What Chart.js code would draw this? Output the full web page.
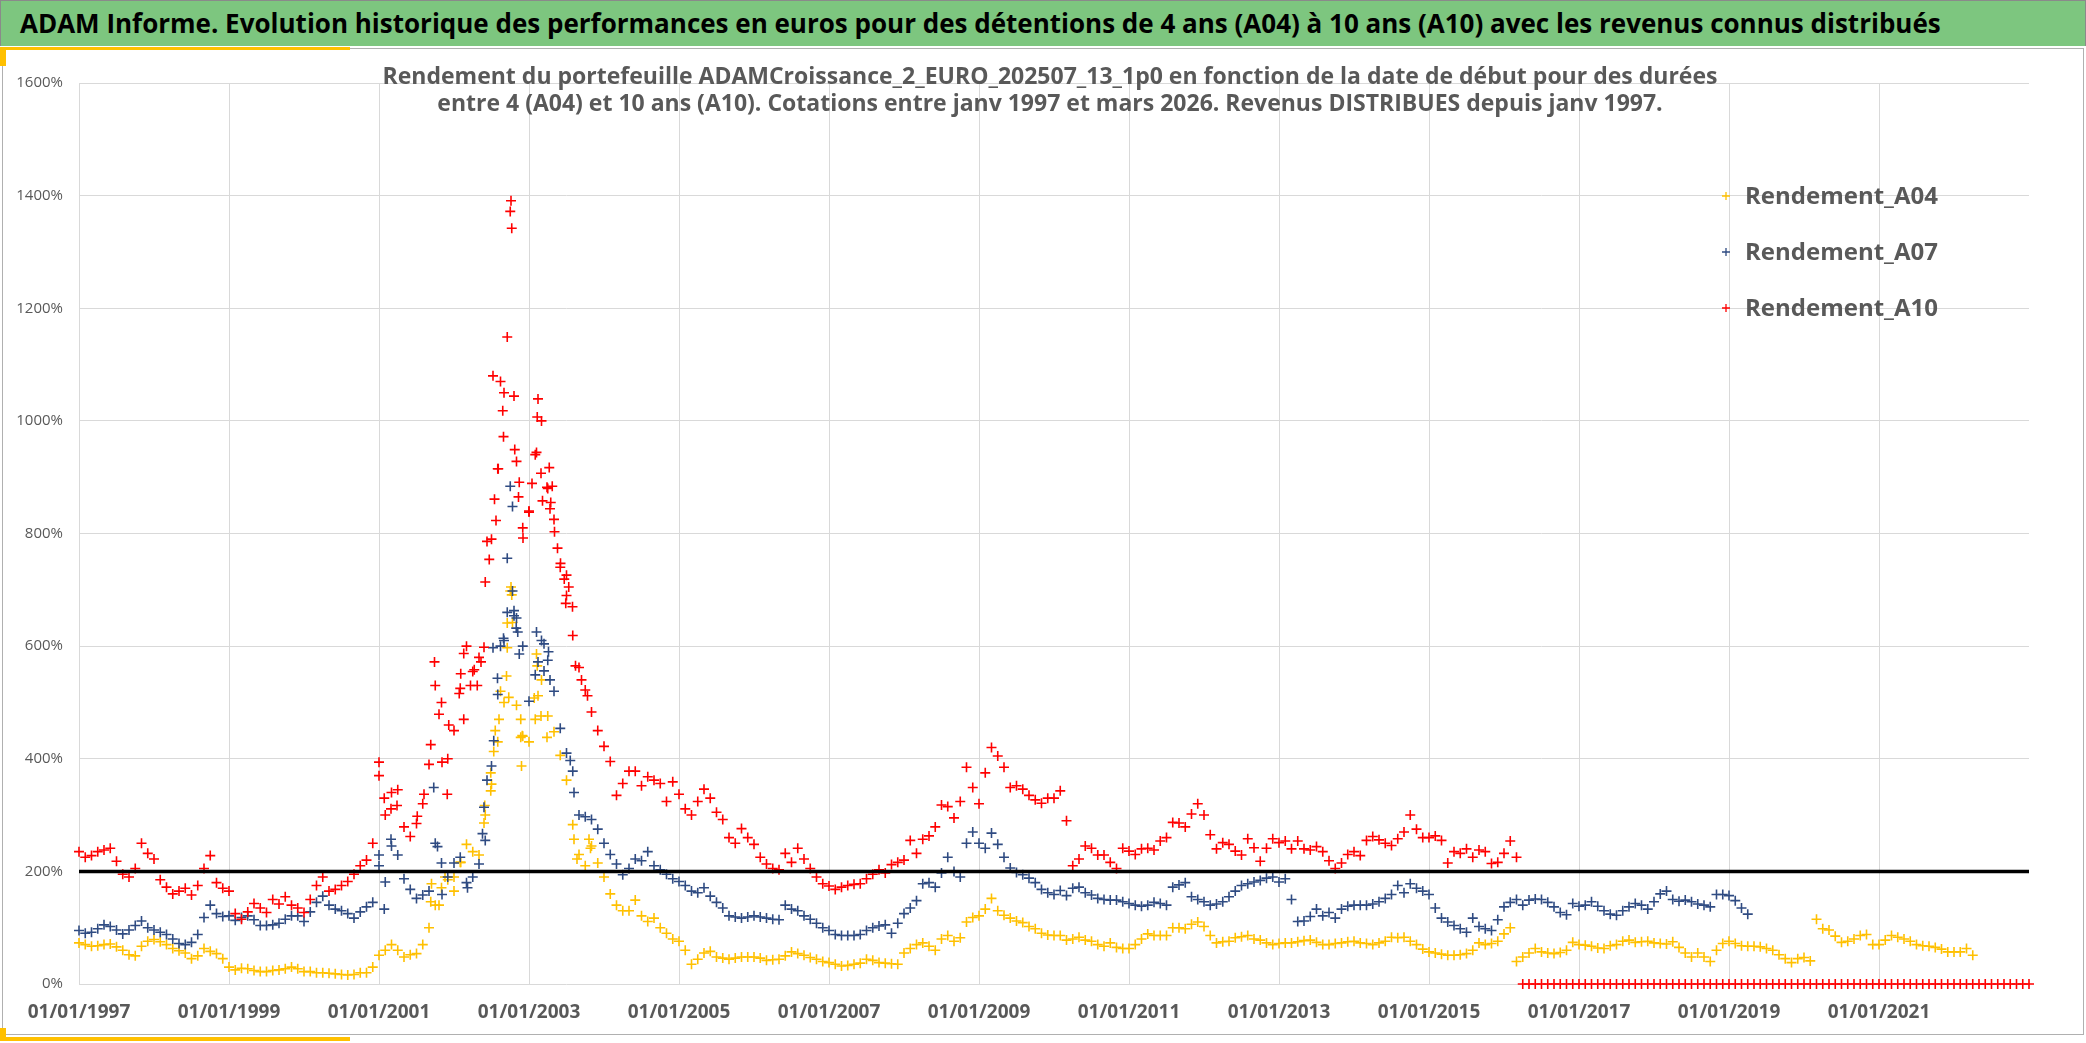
<!DOCTYPE html>
<html lang="fr">
<head>
<meta charset="utf-8">
<title>ADAM Informe - Rendements A04 A07 A10</title>
<script src="https://cdn.jsdelivr.net/npm/chart.js@4.4.1/dist/chart.umd.min.js"></script>
<style>
    html, body { margin: 0; padding: 0; background: #fff; overflow: hidden; }
    body { width: 2086px; height: 1043px; position: relative; font-family: "Open Sans", "DejaVu Sans", sans-serif; }
    .banner {
        position: absolute; left: 0; top: 0; width: 2086px; height: 46px;
        background: #7dc67f; border: 1px solid #8a8a8a; border-bottom: none;
        font-weight: bold; font-size: 26px; line-height: 45px; color: #000;
        padding-left: 19px; box-sizing: border-box; white-space: nowrap;
    }
    .frame {
        position: absolute; left: 2px; top: 48px; width: 2082px; height: 987px;
        border: 1px solid #b0b0b0; box-sizing: border-box;
    }
    .accent { position: absolute; background: #ffc000; }
    .subtitle {
        position: absolute; left: 0; top: 62px; width: 2100px; text-align: center;
        font-weight: bold; font-size: 23px; line-height: 27px; color: #595959; z-index: 5;
    }
    #wrap { position: absolute; left: 0; top: 0; width: 2086px; height: 1043px; z-index: 3; }
</style>
</head>
<body>
<div class="banner">ADAM Informe. Evolution historique des performances en euros pour des détentions de 4 ans (A04) à 10 ans (A10) avec les revenus connus distribués</div>
<div class="frame"></div>
<div class="accent" style="left:0;top:47px;width:350px;height:3px"></div>
<div class="accent" style="left:0;top:47px;width:6px;height:19px"></div>
<div class="accent" style="left:0;top:1037px;width:350px;height:4px"></div>
<div class="accent" style="left:0;top:1028px;width:6px;height:13px"></div>
<div class="subtitle">Rendement du portefeuille ADAMCroissance_2_EURO_202507_13_1p0 en fonction de la date de début pour des durées<br>entre 4 (A04) et 10 ans (A10). Cotations entre janv 1997 et mars 2026. Revenus DISTRIBUES depuis janv 1997.</div>
<div id="wrap"><canvas id="chart" width="2086" height="1043"></canvas></div>

<script>
// monthly values (%) starting january 1997, one row per year
const startYear = 1997;

const a04Monthly = [
    73, 70, 67, 68, 70, 71, 66, 60, 52, 50, 67, 76,
    79, 75, 70, 63, 59, 55, 45, 50, 63, 58, 54, 45,
    30, 25, 28, 27, 24, 22, 22, 24, 25, 27, 30, 27,
    22, 22, 20, 20, 19, 18, 17, 16, 17, 20, 20, 30,
    51, 60, 70, 60, 48, 52, 54, 70, 100, 140, 171, 185,
    190, 216, 248, 235, 229, 300, 355, 430, 500, 698, 495, 440,
    430, 470, 540, 476, 448, 406, 362, 283, 230, 210, 245, 215,
    190, 160, 140, 130, 130, 149, 121, 111, 117, 100, 90, 80,
    76, 60, 35, 44, 55, 58, 48, 46, 44, 46, 48, 48,
    48, 46, 42, 43, 44, 50, 57, 54, 51, 47, 44, 40,
    38, 35, 32, 33, 35, 37, 44, 42, 38, 37, 36, 35,
    55, 63, 70, 73, 67, 60, 80, 86, 76, 82, 110, 118,
    121, 133, 152, 130, 122, 117, 112, 109, 102, 98, 90, 87,
    86, 86, 78, 80, 83, 78, 76, 70, 67, 73, 65, 63,
    63, 70, 80, 89, 86, 86, 86, 100, 100, 98, 106, 110,
    102, 86, 73, 75, 76, 82, 84, 86, 80, 78, 73, 70,
    72, 73, 73, 75, 77, 78, 74, 70, 70, 72, 73, 75,
    76, 73, 72, 70, 73, 76, 83, 82, 83, 76, 70, 62,
    57, 55, 53, 51, 51, 52, 54, 60, 73, 70, 72, 76,
    89, 100, 40, 48, 55, 63, 57, 55, 54, 56, 60, 74,
    70, 69, 67, 64, 63, 68, 70, 76, 78, 74, 75, 76,
    73, 72, 71, 75, 65, 55, 48, 55, 48, 40, 60, 72,
    76, 72, 68, 67, 67, 66, 63, 60, 52, 45, 38, 45,
    47, 41, 115, 98, 96, 85, 74, 76, 80, 86, 88, 70,
    70, 78, 86, 83, 80, 76, 70, 68, 67, 65, 62, 57,
    57, 57, 63, 51
];

const a07Monthly = [
    95, 90, 92, 98, 105, 102, 96, 89, 96, 104, 112, 100,
    96, 92, 88, 80, 72, 70, 74, 88, 118, 140, 125, 120,
    121, 113, 118, 121, 114, 104, 104, 105, 108, 115, 121, 121,
    111, 128, 145, 156, 140, 133, 130, 125, 117, 128, 137, 145,
    210, 181, 245, 229, 187, 168, 152, 158, 165, 250, 215, 190,
    215, 225, 180, 190, 213, 255, 387, 514, 610, 884, 650, 600,
    502, 549, 610, 575, 520, 454, 410, 378, 300, 297, 292, 275,
    250, 230, 213, 194, 205, 222, 219, 235, 210, 203, 195, 187,
    182, 175, 165, 162, 171, 156, 145, 135, 121, 119, 117, 119,
    121, 119, 117, 115, 114, 140, 133, 130, 121, 115, 108, 100,
    95, 88, 86, 86, 86, 88, 95, 100, 103, 105, 90, 108,
    125, 135, 148, 178, 180, 172, 197, 225, 200, 190, 250, 270,
    250, 241, 268, 248, 225, 206, 198, 194, 188, 180, 168, 162,
    159, 166, 157, 170, 172, 162, 158, 152, 150, 149, 149, 146,
    143, 140, 138, 140, 145, 143, 140, 172, 176, 180, 155, 150,
    146, 140, 142, 146, 155, 165, 175, 178, 181, 184, 188, 190,
    181, 187, 150, 111, 112, 120, 133, 121, 127, 117, 133, 138,
    140, 140, 140, 142, 146, 152, 159, 175, 162, 178, 170, 165,
    159, 135, 117, 110, 104, 98, 92, 117, 102, 98, 95, 114,
    137, 145, 150, 140, 149, 151, 150, 145, 137, 127, 123, 143,
    138, 140, 146, 138, 130, 124, 122, 130, 137, 143, 140, 133,
    146, 160, 165, 150, 147, 149, 146, 142, 140, 137, 159, 159,
    157, 148, 135, 124
];

const a10Monthly = [
    235, 225, 228, 235, 238, 241, 218, 195, 190, 205, 250, 232,
    222, 185, 172, 160, 165, 170, 158, 175, 205, 228, 180, 170,
    165, 125, 115, 128, 143, 135, 127, 150, 142, 155, 140, 135,
    127, 150, 175, 190, 165, 168, 175, 182, 195, 210, 220, 250,
    370, 300, 340, 345, 279, 262, 285, 320, 390, 530, 500, 400,
    450, 525, 600, 555, 580, 714, 790, 915, 1050, 1372, 928, 810,
    840, 940, 1000, 880, 825, 740, 690, 619, 562, 522, 483, 450,
    422, 395, 335, 356, 378, 378, 352, 368, 362, 356, 324, 359,
    337, 311, 300, 324, 346, 330, 305, 292, 260, 250, 276, 260,
    248, 225, 213, 205, 203, 232, 216, 241, 222, 205, 190, 178,
    174, 168, 172, 175, 177, 178, 187, 195, 203, 197, 212, 216,
    220, 255, 232, 257, 263, 279, 318, 315, 295, 324, 385, 349,
    320, 375, 420, 405, 385, 349, 352, 346, 335, 327, 321, 330,
    330, 343, 290, 210, 222, 245, 241, 229, 229, 216, 205, 241,
    236, 230, 240, 241, 238, 254, 260, 287, 286, 279, 302, 320,
    300, 265, 240, 251, 248, 236, 229, 258, 242, 218, 241, 258,
    251, 254, 240, 254, 240, 238, 244, 235, 219, 205, 215, 230,
    235, 228, 255, 262, 256, 250, 246, 258, 270, 300, 275, 260,
    260, 263, 255, 215, 235, 232, 240, 225, 238, 235, 214, 216,
    232, 254, 225, 0, 0, 0, 0, 0, 0, 0, 0, 0,
    0, 0, 0, 0, 0, 0, 0, 0, 0, 0, 0, 0,
    0, 0, 0, 0, 0, 0, 0, 0, 0, 0, 0, 0,
    0, 0, 0, 0, 0, 0, 0, 0, 0, 0, 0, 0,
    0, 0, 0, 0, 0, 0, 0, 0, 0, 0, 0, 0,
    0, 0, 0, 0, 0, 0, 0, 0, 0, 0, 0, 0,
    0, 0, 0, 0, 0, 0, 0, 0, 0, 0, 0, 0,
    0
];

// extra scattered quotes around the 2001-2003 bubble: [decimal year, %]
const a04Extra = [
    [2001.69, 146], [2001.70, 178], [2001.80, 140], [2001.88, 190], [2002.00, 165], [2002.09, 216],
    [2002.40, 286], [2002.41, 317], [2002.49, 343], [2002.49, 375], [2002.53, 413], [2002.55, 450],
    [2002.60, 470], [2002.62, 520], [2002.71, 641], [2002.71, 597], [2002.70, 547], [2002.73, 509],
    [2002.76, 705], [2002.77, 691], [2002.78, 642], [2002.89, 470], [2002.89, 438], [2002.90, 387],
    [2002.91, 441], [2003.07, 508], [2003.10, 586], [2003.11, 565], [2003.12, 512], [2003.16, 476],
    [2003.24, 438], [2003.60, 257], [2003.64, 222], [2003.80, 257], [2003.82, 241]
];

const a07Extra = [
    [2001.00, 229], [2001.07, 133], [2001.16, 257], [2001.73, 349], [2001.78, 244], [2001.84, 159],
    [2002.18, 171], [2002.38, 267], [2002.40, 314], [2002.44, 362], [2002.53, 432], [2002.58, 543],
    [2002.52, 597], [2002.62, 600], [2002.66, 614], [2002.71, 756], [2002.71, 660], [2002.78, 848],
    [2002.78, 698], [2002.80, 663], [2002.80, 654], [2002.83, 632], [2002.85, 625], [2002.87, 586],
    [2003.10, 625], [2003.12, 572], [2003.20, 604], [2003.20, 556], [2003.26, 590], [2003.28, 540],
    [2003.55, 397], [2003.60, 340]
];

const a10Extra = [
    [2001.00, 394], [2001.07, 330], [2001.16, 311], [2001.24, 317], [2001.51, 298], [2001.60, 337],
    [2001.69, 425], [2001.74, 572], [2001.80, 479], [2001.84, 394], [2001.91, 337], [2001.93, 460],
    [2002.07, 516], [2002.09, 551], [2002.13, 587], [2002.13, 470], [2002.22, 530], [2002.27, 558],
    [2002.31, 530], [2002.36, 572], [2002.40, 598], [2002.44, 786], [2002.47, 754], [2002.52, 1080],
    [2002.54, 861], [2002.56, 823], [2002.59, 915], [2002.62, 1070], [2002.65, 1018], [2002.66, 972],
    [2002.71, 1149], [2002.76, 1391], [2002.77, 1342], [2002.80, 1044], [2002.81, 949], [2002.86, 865],
    [2002.87, 891], [2002.92, 792], [2003.00, 838], [2003.04, 889], [2003.10, 944], [2003.12, 1039],
    [2003.11, 1007], [2003.16, 907], [2003.18, 858], [2003.24, 882], [2003.27, 917], [2003.29, 855],
    [2003.28, 844], [2003.31, 884], [2003.34, 803], [2003.38, 774], [2003.42, 747], [2003.47, 719],
    [2003.50, 726], [2003.53, 705], [2003.49, 676], [2003.58, 670], [2003.62, 565], [2003.70, 540],
    [2003.78, 512]
];

const seriesLabels = ['Rendement_A04', 'Rendement_A07', 'Rendement_A10'];
const seriesColors = ['#ffc000', '#2f4b82', '#ff0000'];
const xTickYears = [1997, 1999, 2001, 2003, 2005, 2007, 2009, 2011, 2013, 2015, 2017, 2019, 2021];
const xMin = 1997;
const xMax = 2023;
const yTicks = [0, 200, 400, 600, 800, 1000, 1200, 1400, 1600];
const thresholdValue = 200;

function toPoints(monthly, extra) {
    const pts = monthly.map((v, i) => ({ x: startYear + i / 12, y: v }));
    extra.forEach(p => pts.push({ x: p[0], y: p[1] }));
    return pts;
}

function scatterSet(idx, monthly, extra) {
    return {
        label: seriesLabels[idx],
        data: toPoints(monthly, extra),
        pointStyle: 'cross',
        pointRadius: 5,
        pointBorderWidth: 1.6,
        borderColor: seriesColors[idx],
        backgroundColor: seriesColors[idx],
        showLine: false,
        clip: false,
        order: 3 - idx,
        inLegend: true
    };
}

// legend drawn inside the plot like the Excel one
const sideLegend = {
    id: 'sideLegend',
    afterDatasetsDraw(chart, args, opts) {
        const ctx = chart.ctx;
        const items = chart.data.datasets.filter(d => d.inLegend);
        ctx.save();
        items.forEach((d, i) => {
            const y = opts.top + i * opts.gap;
            ctx.strokeStyle = d.borderColor;
            ctx.lineWidth = 1.3;
            ctx.beginPath();
            ctx.moveTo(opts.left - 4, y); ctx.lineTo(opts.left + 4, y);
            ctx.moveTo(opts.left, y - 4); ctx.lineTo(opts.left, y + 4);
            ctx.stroke();
            ctx.fillStyle = '#595959';
            ctx.font = 'bold 24px "Open Sans"';
            ctx.textBaseline = 'middle';
            ctx.fillText(d.label, opts.left + 19, y + 1);
        });
        ctx.restore();
    }
};

const tickColor = '#595959';
const gridColor = '#d9d9d9';

new Chart(document.getElementById('chart'), {
    type: 'scatter',
    data: {
        datasets: [
            scatterSet(0, a04Monthly, a04Extra),
            scatterSet(1, a07Monthly, a07Extra),
            scatterSet(2, a10Monthly, a10Extra),
            {
                type: 'line',
                label: 'seuil',
                data: [{ x: xMin, y: thresholdValue }, { x: xMax, y: thresholdValue }],
                borderColor: '#000',
                borderWidth: 3.5,
                pointRadius: 0,
                order: 0
            }
        ]
    },
    options: {
        responsive: false,
        animation: false,
        devicePixelRatio: 1,
        layout: { padding: { top: 83, right: 57, left: 0, bottom: 0 } },
        scales: {
            x: {
                type: 'linear',
                min: xMin,
                max: xMax,
                afterBuildTicks: scale => { scale.ticks = xTickYears.map(v => ({ value: v })); },
                afterFit: scale => { scale.height = 59; },
                grid: { color: gridColor, lineWidth: 1, drawTicks: false },
                border: { display: false },
                ticks: {
                    padding: 17,
                    color: tickColor,
                    maxRotation: 0,
                    autoSkip: false,
                    font: { family: 'Open Sans', size: 19, weight: 'bold' },
                    callback: v => '01/01/' + v
                }
            },
            y: {
                min: 0,
                max: 1600,
                afterBuildTicks: scale => { scale.ticks = yTicks.map(v => ({ value: v })); },
                afterFit: scale => { scale.width = 79; },
                grid: { color: gridColor, lineWidth: 1, drawTicks: false },
                border: { display: false },
                ticks: {
                    padding: 16,
                    color: tickColor,
                    font: { family: 'Open Sans', size: 15 },
                    callback: v => v + '%'
                }
            }
        },
        plugins: {
            legend: { display: false },
            tooltip: { enabled: false },
            sideLegend: { left: 1726, top: 196, gap: 56 }
        }
    },
    plugins: [sideLegend]
});
</script>
</body>
</html>
